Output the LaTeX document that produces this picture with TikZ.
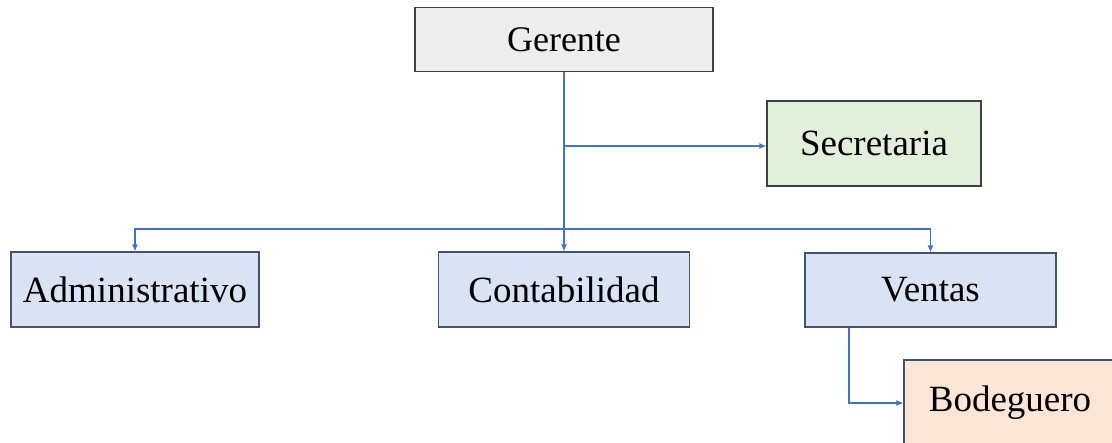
\documentclass[tikz,border=0pt]{standalone}
\usepackage{fontspec}
\setmainfont{Liberation Serif}
\usetikzlibrary{arrows.meta}
\definecolor{linkblue}{HTML}{4472C4}
\definecolor{gerfill}{HTML}{EDEDED}
\definecolor{secfill}{HTML}{E2EFDA}
\definecolor{bluefill}{HTML}{DAE3F3}
\definecolor{bodfill}{HTML}{FBE5D6}
\definecolor{bordgray}{HTML}{404040}
\definecolor{bordblue}{HTML}{44546A}
\tikzset{
  orgbox/.style={draw=bordblue, line width=1.1pt, inner sep=0pt, font=\fontsize{37}{40}\selectfont},
  link/.style={draw=linkblue, line width=1.2pt, -{Latex[length=7pt,width=6pt]}}
}
\begin{document}
\begin{tikzpicture}[x=1pt,y=-1pt]
\useasboundingbox (0,0) rectangle (1112,443);
\clip (0,0) rectangle (1112,443);
\node[orgbox, draw=bordgray, fill=gerfill, minimum width=298pt, minimum height=64pt, font=\fontsize{36}{40}\selectfont] (ger) at (564,39.5) {Gerente};
\node[orgbox, draw=bordgray, fill=secfill, minimum width=214pt, minimum height=85pt] (sec) at (874,143.5) {Secretaria};
\node[orgbox, fill=bluefill, minimum width=248pt, minimum height=75pt] (adm) at (135,289.5) {Administrativo};
\node[orgbox, fill=bluefill, minimum width=251pt, minimum height=75pt] (con) at (564,289.5) {Contabilidad};
\node[orgbox, fill=bluefill, minimum width=251pt, minimum height=74pt] (ven) at (930.5,290) {Ventas};
\node[orgbox, fill=bodfill, minimum width=222pt, minimum height=90pt] (bod) at (1015,405) {};
\node[font=\fontsize{37}{40}\selectfont, inner sep=0pt] (bodt) at (1010,403) {Bodeguero};
\coordinate (bus) at (564,229);
\coordinate (sj) at (564,146);
\draw[link] (ger.south) -- (con.north);
\draw[link] (sj) -- (sec.west |- sj);
\draw[link] (bus) -| (adm.north);
\draw[link] (bus) -| (ven.north);
\draw[link] (ven.south -| 849,0) |- (bod.west |- bodt);
\end{tikzpicture}
\end{document}
